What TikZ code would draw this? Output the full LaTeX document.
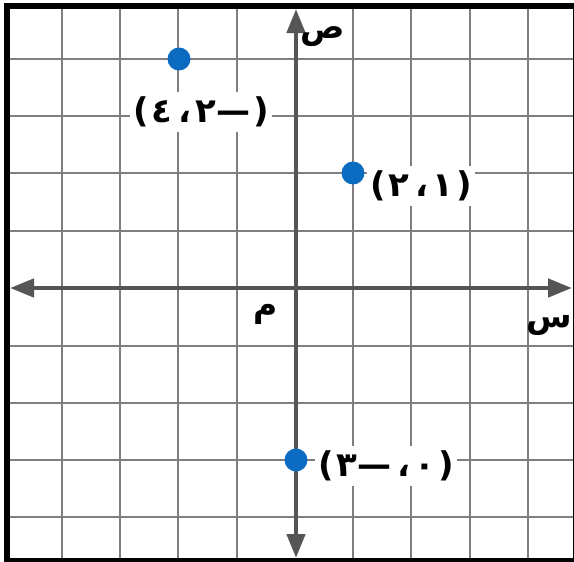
\documentclass[tikz,border=0pt]{standalone}
\usepackage{fontspec}
\usetikzlibrary{arrows.meta}
\newfontfamily\arabicfont[Script=Arabic]{DejaVu Sans}
\newfontfamily\numfont{DejaVu Sans}
\definecolor{gridgray}{HTML}{7F7F7F}
\definecolor{axisgray}{HTML}{555555}
\definecolor{dotblue}{HTML}{0B6BC1}
\newcommand{\gp}{\hspace{3pt}}
\newcommand{\cg}{\hspace{6pt}}
\tikzset{
  gridline/.style={gridgray, line width=2.6pt},
  axisline/.style={axisgray, line width=4.5pt, {Triangle[length=24pt,width=18pt]}-{Triangle[length=24pt,width=18pt]}},
  dot/.style={circle, fill=dotblue, inner sep=0pt, minimum size=23pt},
  ptlabel/.style={fill=white, inner xsep=3pt, inner ysep=5pt, font=\numfont\bfseries\fontsize{34}{34}\selectfont},
  axlabel/.style={inner sep=0pt, font=\arabicfont\bfseries\fontsize{33}{33}\selectfont}
}
\begin{document}
\begin{tikzpicture}[x=1pt,y=-1pt]
\useasboundingbox (0,0) rectangle (574,562);
% frame
\fill[black] (4,3) rectangle (574,562);
\fill[white] (10,9) rectangle (572.5,558);
% grid
\foreach \x in {62,120,178,237,353,411,470,528}
  \draw[gridline] (\x,9) -- (\x,558);
\foreach \y in {59,116,173,231,346,403,460,517}
  \draw[gridline] (10,\y) -- (572.5,\y);
% axes
\coordinate (xl) at (10,288);
\coordinate (xr) at (572,288);
\coordinate (yt) at (296,9);
\coordinate (yb) at (296,558);
\draw[axisline] (xl) -- (xr);
\draw[axisline] (yb) -- (yt);
% axis labels
\node[axlabel] (ys) at (323,37) {ص};
\node[axlabel] (xs) at (549,325) {س};
\node[axlabel] (origin) at (266,314) {م};
% points
\node[dot] (p1) at (179,59) {};
\node[dot] (p2) at (353,173) {};
\node[dot] (p3) at (296,460) {};
% labels (visual order)
\node[ptlabel] (l1) at (201,112) {(\gp\hbox{٤}\cg\hbox{،}\hspace{4pt}\hbox{٢}\hbox{—}\gp)};
\node[ptlabel] (l2) at (421,186) {(\gp\hbox{٢}\cg\hbox{،}\hspace{4pt}\hbox{١}\gp)};
\node[ptlabel] (l3) at (386,466) {(\gp\hbox{٣}\hbox{—}\cg\hbox{،}\hspace{4pt}\hbox{٠}\gp)};
\end{tikzpicture}
\end{document}
